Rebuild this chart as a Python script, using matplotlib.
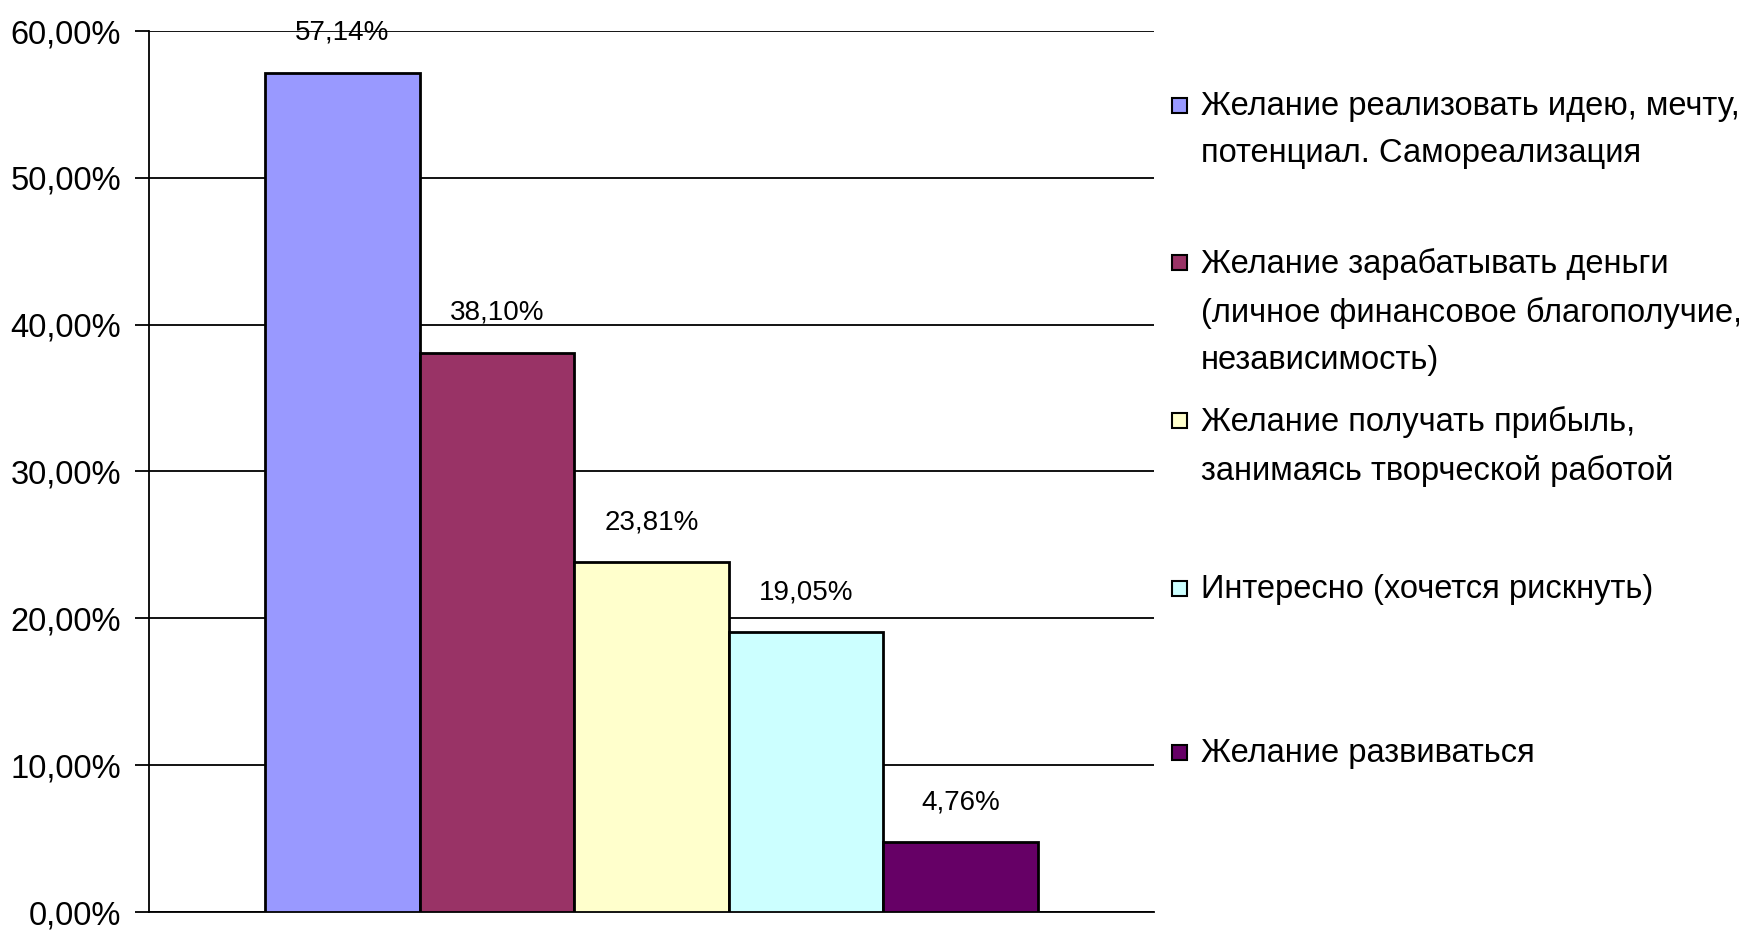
import numpy as np
import matplotlib.pyplot as plt
from matplotlib.patches import Rectangle
from matplotlib.ticker import FuncFormatter

labels = ['Желание реализовать идею, мечту,\nпотенциал. Самореализация',
          'Желание зарабатывать деньги\n(личное финансовое благополучие,\nнезависимость)',
          'Желание получать прибыль,\nзанимаясь творческой работой',
          'Интересно (хочется рискнуть)',
          'Желание развиваться']
values = [57.14, 38.10, 23.81, 19.05, 4.76]
colors = ['#9999FF', '#993366', '#FFFFCC', '#CCFFFF', '#660066']
yticks = [0, 10, 20, 30, 40, 50, 60]

plt.rcParams['font.family'] = ['Liberation Sans', 'DejaVu Sans']

W, H = 1740, 930
fig = plt.figure(figsize=(W/100, H/100), dpi=100)
ax = fig.add_axes([149/W, 1-912/H, (1154-149)/W, (912-31)/H])

x = 0.75 + np.arange(len(values))
ax.bar(x, values, width=1, align='edge', color=colors, edgecolor='black', linewidth=2, zorder=3)
for xi, v in zip(x, values):
	ax.annotate(('%.2f%%' % v).replace('.', ','), (xi+0.5, v), xytext=(0, 40),
		textcoords='offset pixels', ha='center', va='center', fontsize=20, zorder=4)

ax.set_xlim(0, 6.5)
ax.set_ylim(0, 60)
ax.set_yticks(yticks)
ax.yaxis.set_major_formatter(FuncFormatter(lambda v, p: ('%.2f%%' % v).replace('.', ',')))
ax.grid(axis='y', color='black', linewidth=1.3, zorder=0)
ax.set_xticks([])
ax.tick_params(axis='y', length=10, width=1.3, labelsize=23.5, pad=10)
for s in ['top', 'right']:
	ax.spines[s].set_visible(False)
for s in ['left', 'bottom']:
	ax.spines[s].set_linewidth(1.3)

# legend drawn by hand
leg_y = [105, 262, 420, 588, 752]
for lab, c, yy in zip(labels, colors, leg_y):
	fig.patches.append(Rectangle((1172/W, 1-(yy+8)/H), 15/W, 15/H, transform=fig.transFigure,
		facecolor=c, edgecolor='black', linewidth=1.5))
	fig.text(1201/W, 1-(yy-14)/H, lab, ha='left', va='top', fontsize=23.5, linespacing=1.68)

plt.savefig('out.png', dpi=100)
